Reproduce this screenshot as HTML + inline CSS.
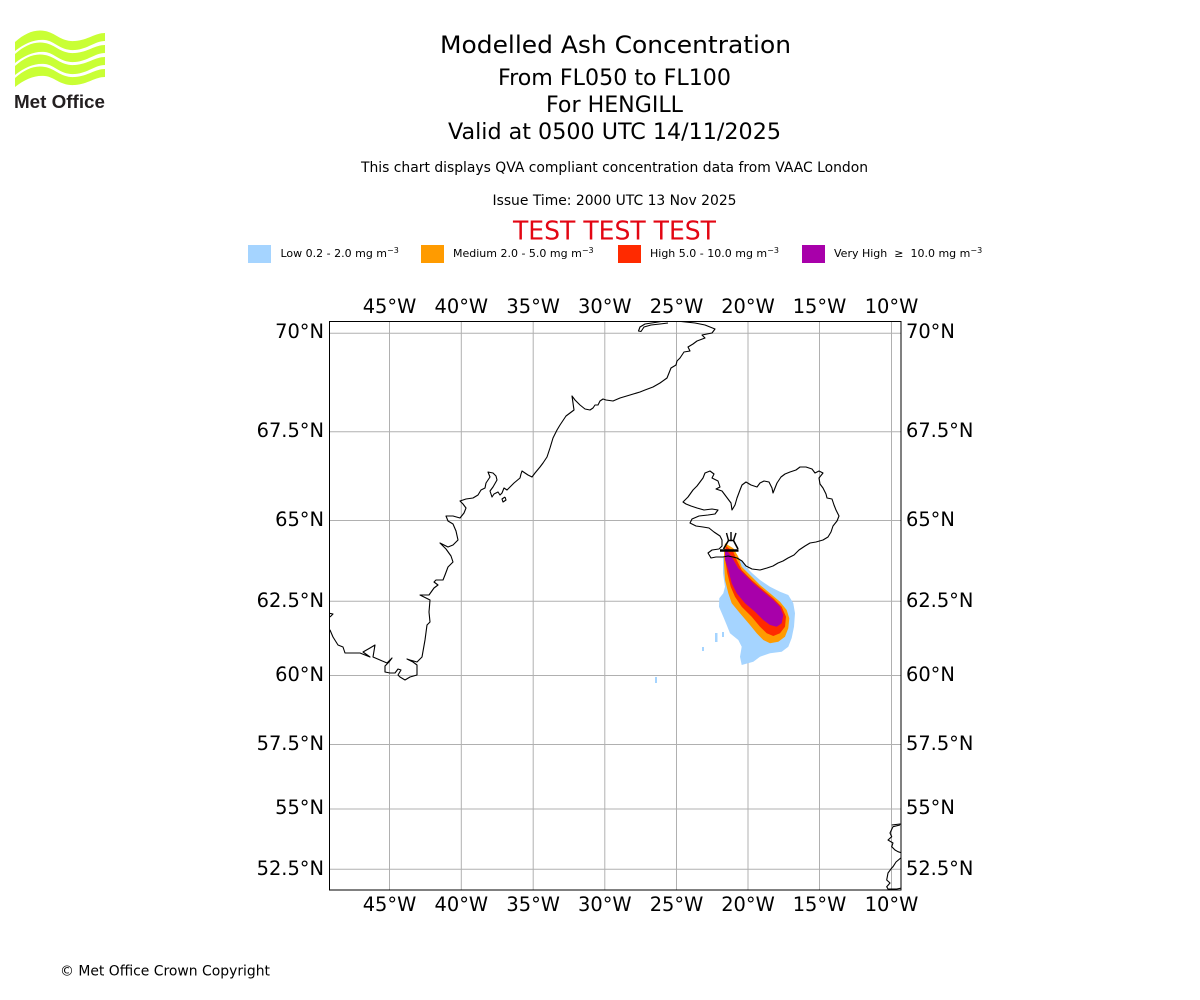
<!DOCTYPE html>
<html><head><meta charset="utf-8"><style>
html,body{margin:0;padding:0;background:#fff;}
svg{display:block;}
text{font-family:"DejaVu Sans","Liberation Sans",sans-serif;}
</style></head><body>
<svg width="1200" height="1000" viewBox="0 0 1200 1000" xmlns="http://www.w3.org/2000/svg">
<rect width="1200" height="1000" fill="#fff"/>
<!-- logo -->
<g fill="#c9ff35">
<path d="M15,42 C25,33 35,29 45,31 C56,33 61,42 75,41 C88,40 95,33 105,33 L105,41 C95,41 88,49 75,50 C60,51 55,41 45,40 C35,39 25,43 15,51 Z"/>
<path d="M15,54 C25,45 35,41 45,43 C56,45 61,54 75,53 C88,52 95,45 105,45 L105,53 C95,53 88,61 75,62 C60,63 55,53 45,52 C35,51 25,55 15,63 Z"/>
<path d="M15,66 C25,57 35,53 45,55 C56,57 61,66 75,65 C88,64 95,57 105,57 L105,65 C95,65 88,73 75,74 C60,75 55,65 45,64 C35,63 25,67 15,75 Z"/>
<path d="M15,78 C25,69 35,65 45,67 C56,69 61,78 75,77 C88,76 95,69 105,69 L105,77 C95,77 88,84 75,85 C60,86 55,77 45,76 C35,75 25,79 15,87 Z"/>
</g>
<text x="14" y="108" style="font-family:'Liberation Sans',sans-serif" font-weight="bold" font-size="18" fill="#231f20" textLength="91" lengthAdjust="spacingAndGlyphs">Met Office</text>

<!-- titles -->
<g text-anchor="middle" fill="#000">
<text x="615.5" y="53" font-size="24" textLength="351" lengthAdjust="spacingAndGlyphs">Modelled Ash Concentration</text>
<text x="614.5" y="85" font-size="22" textLength="233" lengthAdjust="spacingAndGlyphs">From FL050 to FL100</text>
<text x="614.5" y="112" font-size="22" textLength="137" lengthAdjust="spacingAndGlyphs">For HENGILL</text>
<text x="614.5" y="139" font-size="22" textLength="333" lengthAdjust="spacingAndGlyphs">Valid at 0500 UTC 14/11/2025</text>
<text x="614.5" y="172" font-size="13.9" textLength="507" lengthAdjust="spacingAndGlyphs">This chart displays QVA compliant concentration data from VAAC London</text>
<text x="614.5" y="205" font-size="13.9" textLength="244" lengthAdjust="spacingAndGlyphs">Issue Time: 2000 UTC 13 Nov 2025</text>
<text x="614.5" y="239.5" font-size="25.5" fill="#e30613" textLength="203" lengthAdjust="spacingAndGlyphs">TEST TEST TEST</text>
</g>

<!-- legend -->
<rect x="248" y="245" width="23" height="18" fill="#a5d4ff"/>
<text x="280.5" y="257" font-size="11">Low 0.2 - 2.0 mg m<tspan dy="-4" font-size="8">−3</tspan></text>
<rect x="421" y="245" width="23" height="18" fill="#ff9b00"/>
<text x="453" y="257" font-size="11">Medium 2.0 - 5.0 mg m<tspan dy="-4" font-size="8">−3</tspan></text>
<rect x="618" y="245" width="23" height="18" fill="#ff2a00"/>
<text x="650" y="257" font-size="11">High 5.0 - 10.0 mg m<tspan dy="-4" font-size="8">−3</tspan></text>
<rect x="802" y="245" width="23" height="18" fill="#a800aa"/>
<text x="834" y="257" font-size="11">Very High &#160;≥ &#160;10.0 mg m<tspan dy="-4" font-size="8">−3</tspan></text>

<defs><clipPath id="ax"><rect x="329.5" y="321.5" width="571.5" height="568.5"/></clipPath></defs>

<!-- gridlines -->
<g stroke="#b0b0b0" stroke-width="1" clip-path="url(#ax)">
<line x1="389.5" y1="321" x2="389.5" y2="890"/>
<line x1="461.3" y1="321" x2="461.3" y2="890"/>
<line x1="533.2" y1="321" x2="533.2" y2="890"/>
<line x1="604.8" y1="321" x2="604.8" y2="890"/>
<line x1="676.5" y1="321" x2="676.5" y2="890"/>
<line x1="748" y1="321" x2="748" y2="890"/>
<line x1="819.5" y1="321" x2="819.5" y2="890"/>
<line x1="891.5" y1="321" x2="891.5" y2="890"/>
<line x1="329" y1="333.3" x2="901" y2="333.3"/>
<line x1="329" y1="431.7" x2="901" y2="431.7"/>
<line x1="329" y1="520.5" x2="901" y2="520.5"/>
<line x1="329" y1="601.3" x2="901" y2="601.3"/>
<line x1="329" y1="675.5" x2="901" y2="675.5"/>
<line x1="329" y1="744.5" x2="901" y2="744.5"/>
<line x1="329" y1="809" x2="901" y2="809"/>
<line x1="329" y1="869.3" x2="901" y2="869.3"/>
</g>

<!-- plume -->
<g clip-path="url(#ax)">
<polygon fill="#a5d4ff" points="728,547 740,559 745,566 752,573 760,580 770,586.7 780,591.7 788.3,595 793.3,603.3 795,613.3 794,626.7 791.7,638 788.3,646.7 781.7,651.7 770,653.3 760,656.7 753.3,661.7 741.7,665 740,656.7 741.7,646.7 738.3,640 730,633.3 726.7,625 723.3,616.7 719,606.7 719.3,598.3 723.3,593.3 725,586.7 723,573.3 723,558"/>
<rect x="715" y="633" width="2.5" height="9" fill="#a5d4ff"/>
<rect x="722" y="632" width="2" height="5" fill="#a5d4ff"/>
<rect x="702" y="647" width="2" height="4" fill="#a5d4ff"/>
<rect x="655" y="677" width="2" height="6" fill="#a5d4ff"/>
<polygon fill="#ff9b00" points="725,543.3 733.3,548.3 738.3,556.7 741.7,566.7 750,575 760,585 770,593.3 780,601.7 786.7,610 789.3,618.3 788.3,628.3 785,636.7 778.3,641.7 770,643.3 763.3,640 756.7,633.3 750,625 740,613.3 731.7,603.3 728.3,593.3 725,580 724,563.3 724,550"/>
<polygon fill="#ff2a00" points="726,546 733.3,551.7 736.7,560 741.7,570 751.7,580 763.3,590 773.3,598.3 781.7,606.7 786,616.7 785,626.7 780,633.3 773.3,636 766.7,633.3 760,626.7 751.7,616.7 741.7,606.7 735,596.7 730.7,586.7 727.3,573.3 725.3,560"/>
<polygon fill="#a800aa" points="725,548.3 731.7,556.7 738.3,568.3 745,575 753.3,583.3 763.3,591.7 773.3,600 780,606.7 783.3,615 781.7,623.3 776.7,626.7 770,625 763.3,620 755,611.7 745,603.3 736.7,593.3 731.7,583.3 728.3,570 725,560"/>
</g>

<!-- coastlines -->
<g fill="none" stroke="#000" stroke-width="1.1" stroke-linejoin="round" clip-path="url(#ax)">
<polyline points="664,321 655,322.5 645,324 640,327 638.5,331 641,331.5 644,327 651,325 660,324 668,323"/>
<polyline points="681,321.5 695,323 705,325 715,329 712,333 702,335 705,338 697,341 693,344 688,347 690,351 684,352 680,358 677,361 676,365 671,368 669,373 667,378 660,383 653,387 645,390 640,392 630,395 620,398 613,401 606,400 603,399 600,401 598,405 595,405 593,408 590,410 585,409 580,405 575,400 572,396 573,403 574,410 566,416 560,425 557,430 553,438 550,448 547,457 543,463 540,467 535,473 532,477 528,475 522,471 521,474 520,478 514,483 507,490 504,488 502,493 500,495 498,492 494,494 492,497 490,491 493,487 497,480 496,476 493,473 488,472 490,477 486,483 485,488 481,490 478,495 473,498 466,499 460,501 463,504 466,508 464,513 460,518 453,516 446,516 448,521 453,524 456,531 458,540 453,545 448,547 440,543 446,549 451,556 453,562 448,567 445,575 443,580 436,580 434,582 438,585 434,588 429,595 420,595 426,598 430,600 429,612 430,622 427,625 425,640 422,657 417,662 410,660 407,659 413,662 417,665 417,675 410,677 405,680 400,677 398,675 401,670 398,669 395,673 390,673 385,672 385,666 389,662 392,658 387,663 380,660 373,657 375,645 370,648 363,652 370,657 360,653 353,653 345,653 343,647 338,645 333,637 330,630 328,630"/>
<polyline points="505,497 502,499 503,502 506,500 505,497"/>
<polyline points="328,613 333,614 330,617"/>
<polygon points="683,502 688,497 693,490 697,486 703,478 705,473 710,471 714,474 712,478 718,481 720,487 716,489 722,491 725,495 728,499 731,503 732,510 735,505 737,498 740,490 742,485 746,482 751,485 757,487 760,483 764,481 769,482 772,488 773,493 775,488 777,483 781,477 785,474 790,472 796,470 800,467 806,467 812,469 815,473 819,471 823,473 819,478 820,484 823,488 826,494 827,498 832,499 834,505 836,510 839,516 837,521 833,526 831,532 828,537 823,540 816,542 810,543 805,546 799,550 794,555 788,558 783,561 778,563 773,566 767,568 760,570 752,569 746,566 742,561 737,558 733,557 728,556 723,557 716,557 711,558 708,553 712,550 719,549 722,546 722,540 720,536 714,532 709,528 703,527 696,526 690,523 692,519 699,516 708,515 715,514 718,510 712,509 704,510 697,508 691,506 686,504"/>
<polyline points="891.7,825 900,824 902,825"/>
<polyline points="900,825 893,826.7 890,833 891.7,836.7 888,840 893,843 891.7,846.7 895,850 898,851.7 902,853"/>
<polyline points="902,857 896,862 893,866.7 891.7,868 888,873 886.7,880 890,883 886.7,886.7 888,889 896.7,889 902,888"/>
</g>
<!-- volcano -->
<g stroke="#000" fill="none">
<line x1="720" y1="550.5" x2="738.5" y2="550.5" stroke-width="2.5"/>
<polyline points="723.5,549 728.5,540.5 733.5,540.5 738,549" stroke-width="1.6"/>
<line x1="726.5" y1="533" x2="728.5" y2="540.5" stroke-width="1.4"/>
<line x1="731" y1="532" x2="731" y2="540.5" stroke-width="1.4"/>
<line x1="736" y1="533" x2="733.5" y2="540.5" stroke-width="1.4"/>
</g>

<!-- axes frame -->
<rect x="329.5" y="321.5" width="571.5" height="568.5" fill="none" stroke="#000" stroke-width="1"/>

<!-- tick labels -->
<g font-size="19.4" fill="#000" text-anchor="middle">
<text x="389.5" y="313">45°W</text><text x="461.3" y="313">40°W</text><text x="533.2" y="313">35°W</text><text x="604.8" y="313">30°W</text><text x="676.5" y="313">25°W</text><text x="748" y="313">20°W</text><text x="819.5" y="313">15°W</text><text x="891.5" y="313">10°W</text>
<text x="389.5" y="911">45°W</text><text x="461.3" y="911">40°W</text><text x="533.2" y="911">35°W</text><text x="604.8" y="911">30°W</text><text x="676.5" y="911">25°W</text><text x="748" y="911">20°W</text><text x="819.5" y="911">15°W</text><text x="891.5" y="911">10°W</text>
</g>
<g font-size="19.4" fill="#000" text-anchor="end">
<text x="324" y="338">70°N</text><text x="324" y="437">67.5°N</text><text x="324" y="526">65°N</text><text x="324" y="607">62.5°N</text><text x="324" y="681">60°N</text><text x="324" y="750">57.5°N</text><text x="324" y="814">55°N</text><text x="324" y="875">52.5°N</text>
</g>
<g font-size="19.4" fill="#000" text-anchor="start">
<text x="906" y="338">70°N</text><text x="906" y="437">67.5°N</text><text x="906" y="526">65°N</text><text x="906" y="607">62.5°N</text><text x="906" y="681">60°N</text><text x="906" y="750">57.5°N</text><text x="906" y="814">55°N</text><text x="906" y="875">52.5°N</text>
</g>

<text x="60" y="975.5" font-size="13.9" fill="#000" textLength="210" lengthAdjust="spacingAndGlyphs">© Met Office Crown Copyright</text>
</svg>
</body></html>
